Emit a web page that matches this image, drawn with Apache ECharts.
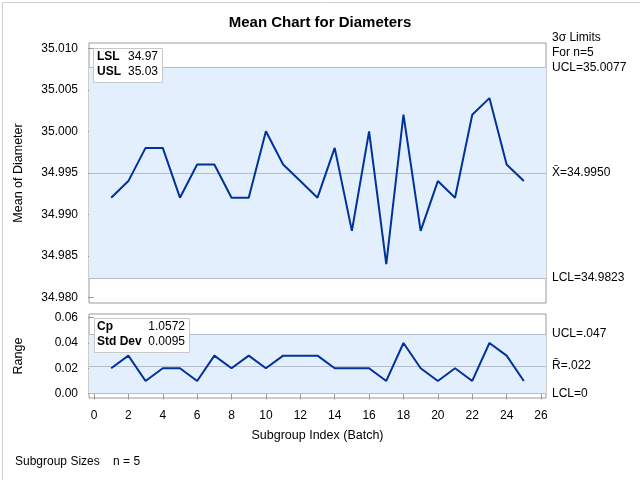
<!DOCTYPE html>
<html><head><meta charset="utf-8">
<script src="https://cdn.jsdelivr.net/npm/echarts@6/dist/echarts.min.js"></script>
<style>html,body{margin:0;padding:0;background:#fff}#c{width:640px;height:480px}</style>
</head><body><div id="c"></div>
<script>
const subgroups = [1,2,3,4,5,6,7,8,9,10,11,12,13,14,15,16,17,18,19,20,21,22,23,24,25];
const means = [34.992,34.994,34.998,34.998,34.992,34.996,34.996,34.992,34.992,35.000,34.996,34.994,34.992,34.998,34.988,35.000,34.984,35.002,34.988,34.994,34.992,35.002,35.004,34.996,34.994];
const ranges = [0.02,0.03,0.01,0.02,0.02,0.01,0.03,0.02,0.03,0.02,0.03,0.03,0.03,0.02,0.02,0.02,0.01,0.04,0.02,0.01,0.02,0.01,0.04,0.03,0.01];
const meanTicks = [34.980,34.985,34.990,34.995,35.000,35.005,35.010];
const rangeTicks = [0.00,0.02,0.04,0.06];
const xTicks = [0,2,4,6,8,10,12,14,16,18,20,22,24,26];
const meanLimits = {ucl:35.0077, center:34.9950, lcl:34.9823};
const rangeLimits = {ucl:0.047, center:0.022, lcl:0};

const FONT = '"Liberation Sans", Arial, sans-serif';
const txt = {fontFamily: FONT, fontSize: 12, color: '#000'};
const frameColor = '#9a9a9a';
const limitColor = '#b4bdcf';
const bandColor = '#e3effd';
const lineColor = '#003399';

function limitLines(lim, labels) {
  return {
    silent: true, symbol: 'none', precision: 6,
    lineStyle: {color: limitColor, type: 'solid', width: 1},
    label: {show: true, position: 'end', distance: 6, fontFamily: FONT, fontSize: 12, color: '#000'},
    data: [
      {yAxis: lim.ucl, label: {formatter: labels[0]}},
      {yAxis: lim.center, label: {formatter: labels[1]}},
      {yAxis: lim.lcl, label: {formatter: labels[2]}}
    ]
  };
}

const chart = echarts.init(document.getElementById('c'), null, {renderer: 'canvas'});
chart.setOption({
  animation: false,
  backgroundColor: '#fff',
  title: {text: 'Mean Chart for Diameters', left: 'center', top: 10,
    textStyle: {fontFamily: FONT, fontSize: 15, fontWeight: 'bold', color: '#000'}},
  grid: [
    {left: 89, width: 457, top: 43, height: 260, show: true, borderColor: frameColor, borderWidth: 1, backgroundColor: 'transparent'},
    {left: 89, width: 457, top: 314, height: 84, show: true, borderColor: frameColor, borderWidth: 1, backgroundColor: 'transparent'}
  ],
  xAxis: [
    {type: 'value', gridIndex: 0, min: -0.29, max: 26.29, show: false},
    {type: 'value', gridIndex: 1, min: -0.29, max: 26.29,
      axisLine: {show: false}, splitLine: {show: false},
      axisTick: {show: true, length: 6, customValues: xTicks, lineStyle: {color: frameColor}},
      axisLabel: {customValues: xTicks, margin: 12, ...txt},
      name: 'Subgroup Index (Batch)', nameLocation: 'middle', nameGap: 31,
      nameTextStyle: {...txt, fontSize: 12.5}}
  ],
  yAxis: [
    {type: 'value', gridIndex: 0, min: 34.97931, max: 35.01064,
      axisLine: {show: false}, splitLine: {show: false},
      axisTick: {show: true, length: 6, customValues: meanTicks, lineStyle: {color: frameColor}},
      axisLabel: {customValues: meanTicks, margin: 11, formatter: v => v.toFixed(3), ...txt},
      name: 'Mean of Diameter', nameLocation: 'middle', nameGap: 64, nameRotate: 90,
      nameTextStyle: {...txt, fontSize: 12.5}},
    {type: 'value', gridIndex: 1, min: -0.00349, max: 0.06294,
      axisLine: {show: false}, splitLine: {show: false},
      axisTick: {show: true, length: 6, customValues: rangeTicks, lineStyle: {color: frameColor}},
      axisLabel: {customValues: rangeTicks, margin: 11, formatter: v => v.toFixed(2), ...txt},
      name: 'Range', nameLocation: 'middle', nameGap: 64, nameRotate: 90,
      nameTextStyle: {...txt, fontSize: 12.5}}
  ],
  series: [
    {type: 'line', xAxisIndex: 0, yAxisIndex: 0, showSymbol: false,
      data: subgroups.map((s, i) => [s, means[i]]),
      lineStyle: {color: lineColor, width: 2}, z: 5,
      markArea: {silent: true, itemStyle: {color: bandColor},
        data: [[{yAxis: meanLimits.lcl}, {yAxis: meanLimits.ucl}]]},
      markLine: limitLines(meanLimits, ['UCL=35.0077', 'X\u0304=34.9950', 'LCL=34.9823'])
    },
    {type: 'line', xAxisIndex: 1, yAxisIndex: 1, showSymbol: false,
      data: subgroups.map((s, i) => [s, ranges[i]]),
      lineStyle: {color: lineColor, width: 2}, z: 5,
      markArea: {silent: true, itemStyle: {color: bandColor},
        data: [[{yAxis: rangeLimits.lcl}, {yAxis: rangeLimits.ucl}]]},
      markLine: limitLines(rangeLimits, ['UCL=.047', 'R\u0304=.022', 'LCL=0'])
    }
  ],
  graphic: [
    {type: 'rect', left: 0, top: 0, shape: {width: 639, height: 479}, style: {fill: 'none', stroke: '#d0d0d0', lineWidth: 1}, z: 100},
    {type: 'text', left: 552, top: 32, style: {text: '3\u03c3 Limits', font: '12px ' + FONT, fill: '#000'}},
    {type: 'text', left: 552, top: 47, style: {text: 'For n=5', font: '12px ' + FONT, fill: '#000'}},
    {type: 'rect', left: 93, top: 48, z: 50, shape: {width: 69, height: 34}, style: {fill: '#fff', stroke: '#c8c8c8', lineWidth: 1}},
    {type: 'text', left: 97, top: 51, z: 51, style: {text: 'LSL', font: 'bold 12px ' + FONT, fill: '#000'}},
    {type: 'text', left: 128, top: 51, z: 51, style: {text: '34.97', font: '12px ' + FONT, fill: '#000'}},
    {type: 'text', left: 97, top: 66, z: 51, style: {text: 'USL', font: 'bold 12px ' + FONT, fill: '#000'}},
    {type: 'text', left: 128, top: 66, z: 51, style: {text: '35.03', font: '12px ' + FONT, fill: '#000'}},
    {type: 'rect', left: 94, top: 318, z: 50, shape: {width: 95, height: 34}, style: {fill: '#fff', stroke: '#c8c8c8', lineWidth: 1}},
    {type: 'text', left: 97, top: 321, z: 51, style: {text: 'Cp', font: 'bold 12px ' + FONT, fill: '#000'}},
    {type: 'text', right: 640 - 185, top: 321, z: 51, style: {text: '1.0572', font: '12px ' + FONT, fill: '#000'}},
    {type: 'text', left: 97, top: 336, z: 51, style: {text: 'Std Dev', font: 'bold 12px ' + FONT, fill: '#000'}},
    {type: 'text', right: 640 - 185, top: 336, z: 51, style: {text: '0.0095', font: '12px ' + FONT, fill: '#000'}},
    {type: 'text', left: 15, top: 456, style: {text: 'Subgroup Sizes    n = 5', font: '12px ' + FONT, fill: '#000'}}
  ]
});
</script></body></html>
